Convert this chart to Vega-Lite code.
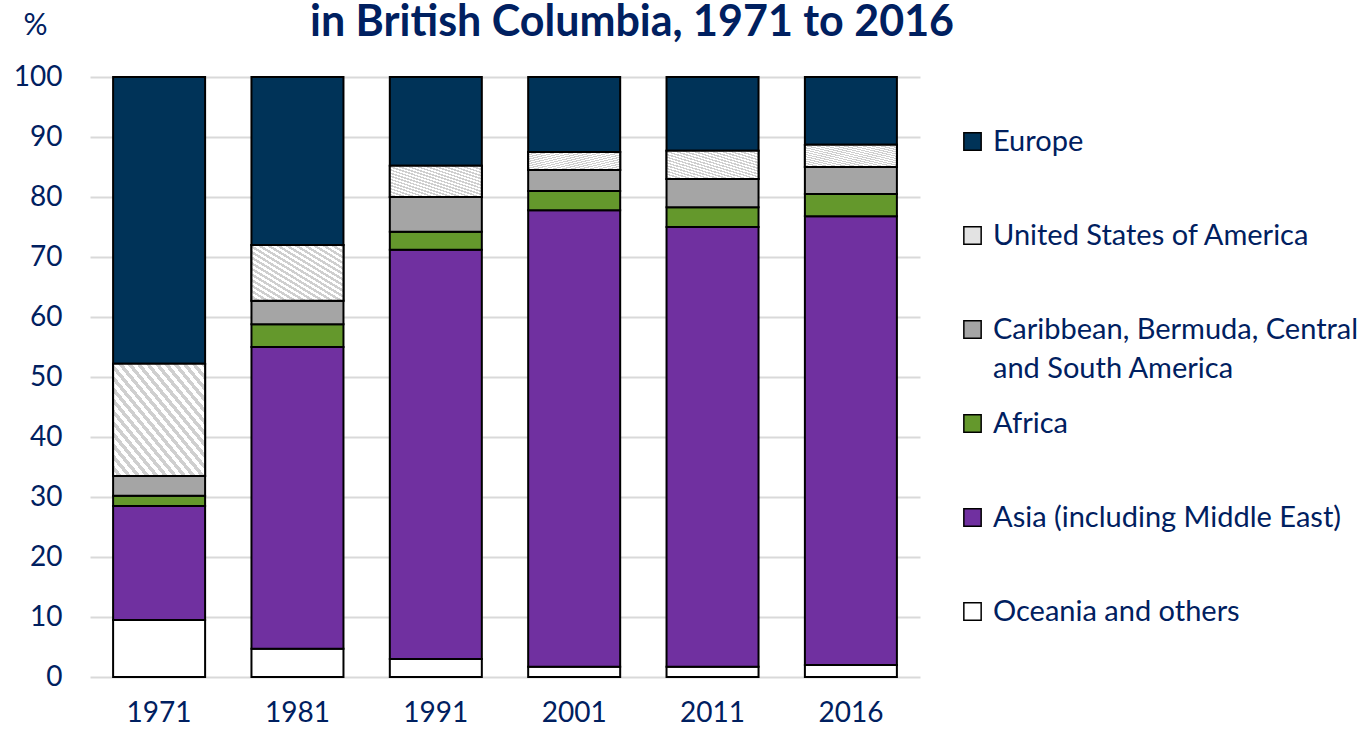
{
  "$schema": "https://vega.github.io/schema/vega-lite/v6.json",
  "width": 830,
  "height": 600,
  "autosize": "none",
  "padding": {"left": 90, "top": 77, "right": 450, "bottom": 54},
  "background": "white",
  "config": {"font": "Lato", "view": {"stroke": null}},
  "title": {
    "text": "in British Columbia, 1971 to 2016",
    "anchor": "start",
    "frame": "group",
    "dx": 220,
    "offset": -69,
    "baseline": "alphabetic",
    "fontSize": 43,
    "fontWeight": "bold",
    "color": "#002060"
  },
  "data": {
    "values": [
      {"year": "1971", "region": "Oceania and others", "order": 1, "value": 9.5},
      {"year": "1971", "region": "Asia (including Middle East)", "order": 2, "value": 19.0},
      {"year": "1971", "region": "Africa", "order": 3, "value": 1.7},
      {"year": "1971", "region": "Caribbean, Bermuda, Central and South America", "order": 4, "value": 3.3},
      {"year": "1971", "region": "United States of America", "order": 5, "value": 18.7},
      {"year": "1971", "region": "Europe", "order": 6, "value": 47.8},
      {"year": "1981", "region": "Oceania and others", "order": 1, "value": 4.7},
      {"year": "1981", "region": "Asia (including Middle East)", "order": 2, "value": 50.3},
      {"year": "1981", "region": "Africa", "order": 3, "value": 3.8},
      {"year": "1981", "region": "Caribbean, Bermuda, Central and South America", "order": 4, "value": 3.9},
      {"year": "1981", "region": "United States of America", "order": 5, "value": 9.3},
      {"year": "1981", "region": "Europe", "order": 6, "value": 28.0},
      {"year": "1991", "region": "Oceania and others", "order": 1, "value": 3.0},
      {"year": "1991", "region": "Asia (including Middle East)", "order": 2, "value": 68.2},
      {"year": "1991", "region": "Africa", "order": 3, "value": 3.0},
      {"year": "1991", "region": "Caribbean, Bermuda, Central and South America", "order": 4, "value": 5.8},
      {"year": "1991", "region": "United States of America", "order": 5, "value": 5.2},
      {"year": "1991", "region": "Europe", "order": 6, "value": 14.8},
      {"year": "2001", "region": "Oceania and others", "order": 1, "value": 1.7},
      {"year": "2001", "region": "Asia (including Middle East)", "order": 2, "value": 76.1},
      {"year": "2001", "region": "Africa", "order": 3, "value": 3.2},
      {"year": "2001", "region": "Caribbean, Bermuda, Central and South America", "order": 4, "value": 3.5},
      {"year": "2001", "region": "United States of America", "order": 5, "value": 3.0},
      {"year": "2001", "region": "Europe", "order": 6, "value": 12.5},
      {"year": "2011", "region": "Oceania and others", "order": 1, "value": 1.7},
      {"year": "2011", "region": "Asia (including Middle East)", "order": 2, "value": 73.3},
      {"year": "2011", "region": "Africa", "order": 3, "value": 3.3},
      {"year": "2011", "region": "Caribbean, Bermuda, Central and South America", "order": 4, "value": 4.7},
      {"year": "2011", "region": "United States of America", "order": 5, "value": 4.7},
      {"year": "2011", "region": "Europe", "order": 6, "value": 12.3},
      {"year": "2016", "region": "Oceania and others", "order": 1, "value": 2.0},
      {"year": "2016", "region": "Asia (including Middle East)", "order": 2, "value": 74.8},
      {"year": "2016", "region": "Africa", "order": 3, "value": 3.7},
      {"year": "2016", "region": "Caribbean, Bermuda, Central and South America", "order": 4, "value": 4.5},
      {"year": "2016", "region": "United States of America", "order": 5, "value": 3.7},
      {"year": "2016", "region": "Europe", "order": 6, "value": 11.3}
    ]
  },
  "transform": [
    {"stack": "value", "groupby": ["year"], "sort": [{"field": "order", "order": "ascending"}], "as": ["v0", "v1"]}
  ],
  "encoding": {
    "x": {
      "field": "year",
      "type": "nominal",
      "sort": ["1971", "1981", "1991", "2001", "2011", "2016"],
      "scale": {"paddingInner": 0.335, "paddingOuter": 0.167},
      "axis": {
        "title": null,
        "labelAngle": 0,
        "domain": false,
        "ticks": false,
        "labelPadding": 22,
        "labelFontSize": 28,
        "labelColor": "#002060"
      }
    },
    "y": {
      "field": "v1",
      "type": "quantitative",
      "scale": {"domain": [0, 100], "nice": false},
      "axis": {
        "title": "%",
        "titleAngle": 0,
        "titleX": -55,
        "titleY": -52,
        "titleAlign": "center",
        "titleBaseline": "middle",
        "titleFontSize": 30,
        "titleFontWeight": "normal",
        "titleColor": "#002060",
        "values": [0, 10, 20, 30, 40, 50, 60, 70, 80, 90, 100],
        "labelFontSize": 28,
        "labelColor": "#002060",
        "labelPadding": 28,
        "domain": false,
        "ticks": false,
        "grid": true,
        "gridColor": "#d9d9d9",
        "gridWidth": 2
      }
    },
    "y2": {"field": "v0"}
  },
  "layer": [
    {
      "mark": {"type": "bar", "stroke": "black", "strokeWidth": 2},
      "encoding": {
        "color": {
          "field": "region",
          "type": "nominal",
          "scale": {
            "domain": ["Europe", "United States of America", "Caribbean, Bermuda, Central and South America", "Africa", "Asia (including Middle East)", "Oceania and others"],
            "range": ["#003358", "#e3e3e3", "#a5a5a5", "#64982c", "#7030a0", "#ffffff"]
          },
          "legend": {
            "title": null,
            "orient": "none",
            "legendX": 868,
            "legendY": 50,
            "symbolType": "square",
            "symbolSize": 300,
            "symbolStrokeColor": "black",
            "symbolStrokeWidth": 1.5,
            "symbolOpacity": 1,
            "labelFontSize": 29,
            "labelColor": "#002060",
            "labelOffset": 6,
            "labelLimit": 0,
            "rowPadding": 25,
            "gridAlign": "all",
            "labelExpr": "datum.label == 'Caribbean, Bermuda, Central and South America' ? ['Caribbean, Bermuda, Central', 'and South America'] : datum.label",
            "encode": {"labels": {"update": {"lineHeight": {"value": 39}}}}
          }
        }
      }
    },
    {
      "transform": [{"filter": "datum.region == 'United States of America'"}],
      "mark": {
        "type": "bar",
        "stroke": "black",
        "strokeWidth": 2,
        "fill": {
          "gradient": "linear",
          "x1": 0, "y1": 1, "x2": 1, "y2": 0,
          "stops": [
            {"offset": 0, "color": "#ffffff"}, {"offset": 0.025, "color": "#ffffff"},
            {"offset": 0.025, "color": "#cfcfcf"}, {"offset": 0.05, "color": "#cfcfcf"},
            {"offset": 0.05, "color": "#ffffff"}, {"offset": 0.075, "color": "#ffffff"},
            {"offset": 0.075, "color": "#cfcfcf"}, {"offset": 0.1, "color": "#cfcfcf"},
            {"offset": 0.1, "color": "#ffffff"}, {"offset": 0.125, "color": "#ffffff"},
            {"offset": 0.125, "color": "#cfcfcf"}, {"offset": 0.15, "color": "#cfcfcf"},
            {"offset": 0.15, "color": "#ffffff"}, {"offset": 0.175, "color": "#ffffff"},
            {"offset": 0.175, "color": "#cfcfcf"}, {"offset": 0.2, "color": "#cfcfcf"},
            {"offset": 0.2, "color": "#ffffff"}, {"offset": 0.225, "color": "#ffffff"},
            {"offset": 0.225, "color": "#cfcfcf"}, {"offset": 0.25, "color": "#cfcfcf"},
            {"offset": 0.25, "color": "#ffffff"}, {"offset": 0.275, "color": "#ffffff"},
            {"offset": 0.275, "color": "#cfcfcf"}, {"offset": 0.3, "color": "#cfcfcf"},
            {"offset": 0.3, "color": "#ffffff"}, {"offset": 0.325, "color": "#ffffff"},
            {"offset": 0.325, "color": "#cfcfcf"}, {"offset": 0.35, "color": "#cfcfcf"},
            {"offset": 0.35, "color": "#ffffff"}, {"offset": 0.375, "color": "#ffffff"},
            {"offset": 0.375, "color": "#cfcfcf"}, {"offset": 0.4, "color": "#cfcfcf"},
            {"offset": 0.4, "color": "#ffffff"}, {"offset": 0.425, "color": "#ffffff"},
            {"offset": 0.425, "color": "#cfcfcf"}, {"offset": 0.45, "color": "#cfcfcf"},
            {"offset": 0.45, "color": "#ffffff"}, {"offset": 0.475, "color": "#ffffff"},
            {"offset": 0.475, "color": "#cfcfcf"}, {"offset": 0.5, "color": "#cfcfcf"},
            {"offset": 0.5, "color": "#ffffff"}, {"offset": 0.525, "color": "#ffffff"},
            {"offset": 0.525, "color": "#cfcfcf"}, {"offset": 0.55, "color": "#cfcfcf"},
            {"offset": 0.55, "color": "#ffffff"}, {"offset": 0.575, "color": "#ffffff"},
            {"offset": 0.575, "color": "#cfcfcf"}, {"offset": 0.6, "color": "#cfcfcf"},
            {"offset": 0.6, "color": "#ffffff"}, {"offset": 0.625, "color": "#ffffff"},
            {"offset": 0.625, "color": "#cfcfcf"}, {"offset": 0.65, "color": "#cfcfcf"},
            {"offset": 0.65, "color": "#ffffff"}, {"offset": 0.675, "color": "#ffffff"},
            {"offset": 0.675, "color": "#cfcfcf"}, {"offset": 0.7, "color": "#cfcfcf"},
            {"offset": 0.7, "color": "#ffffff"}, {"offset": 0.725, "color": "#ffffff"},
            {"offset": 0.725, "color": "#cfcfcf"}, {"offset": 0.75, "color": "#cfcfcf"},
            {"offset": 0.75, "color": "#ffffff"}, {"offset": 0.775, "color": "#ffffff"},
            {"offset": 0.775, "color": "#cfcfcf"}, {"offset": 0.8, "color": "#cfcfcf"},
            {"offset": 0.8, "color": "#ffffff"}, {"offset": 0.825, "color": "#ffffff"},
            {"offset": 0.825, "color": "#cfcfcf"}, {"offset": 0.85, "color": "#cfcfcf"},
            {"offset": 0.85, "color": "#ffffff"}, {"offset": 0.875, "color": "#ffffff"},
            {"offset": 0.875, "color": "#cfcfcf"}, {"offset": 0.9, "color": "#cfcfcf"},
            {"offset": 0.9, "color": "#ffffff"}, {"offset": 0.925, "color": "#ffffff"},
            {"offset": 0.925, "color": "#cfcfcf"}, {"offset": 0.95, "color": "#cfcfcf"},
            {"offset": 0.95, "color": "#ffffff"}, {"offset": 0.975, "color": "#ffffff"},
            {"offset": 0.975, "color": "#cfcfcf"}, {"offset": 1, "color": "#cfcfcf"}
          ]
        }
      },
      "encoding": {}
    }
  ]
}
